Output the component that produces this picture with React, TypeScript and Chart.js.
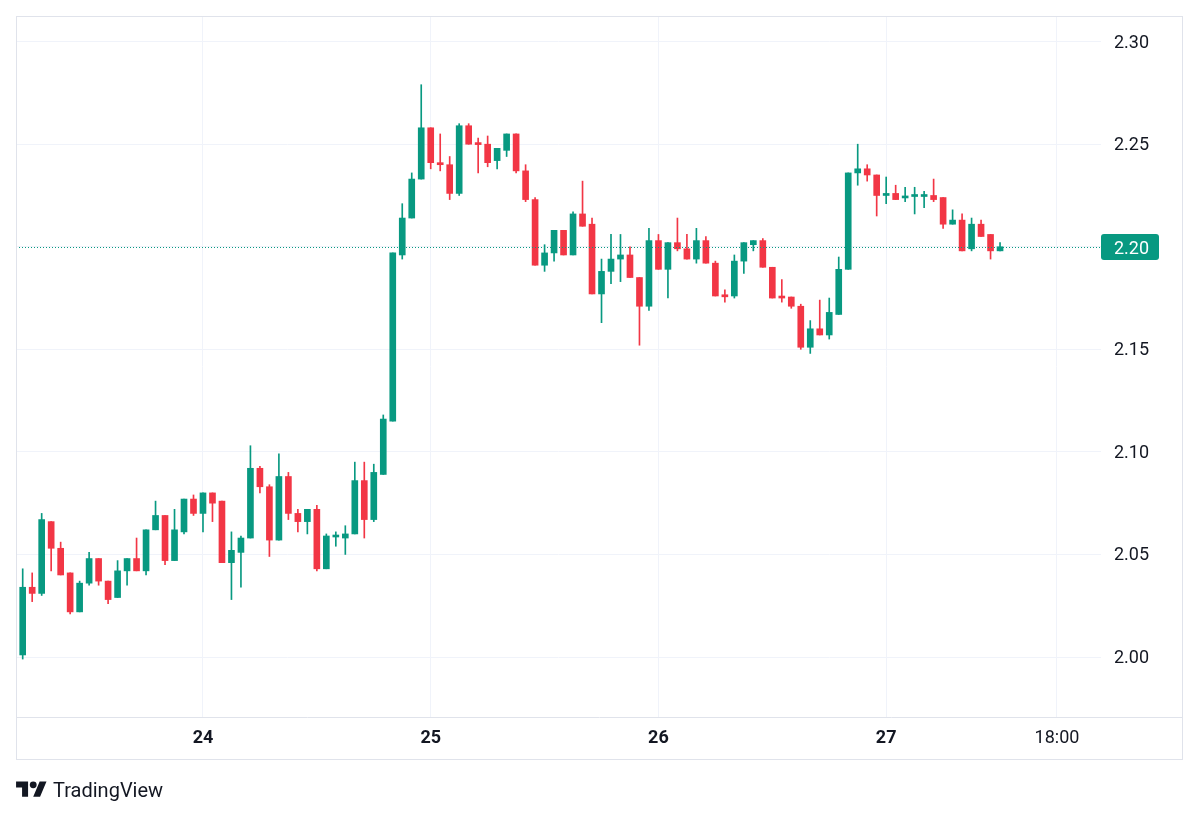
import React, { useEffect, useRef } from 'react';
import { Chart, registerables } from 'chart.js';

Chart.register(...registerables);

// Hourly candles, index 0 = 23rd 05:00
const opens = [
  2.001, 2.034, 2.031, 2.066, 2.053, 2.041, 2.022, 2.036, 2.048, 2.037,
  2.029, 2.042, 2.048, 2.042, 2.062, 2.069, 2.047, 2.061, 2.077, 2.070,
  2.080, 2.076, 2.046, 2.051, 2.058, 2.092, 2.083, 2.057, 2.088, 2.070,
  2.066, 2.072, 2.043, 2.0585, 2.058, 2.060, 2.086, 2.067, 2.089, 2.115,
  2.196, 2.214, 2.233, 2.258, 2.241, 2.240, 2.226, 2.259, 2.2503, 2.250,
  2.242, 2.247, 2.255, 2.237, 2.223, 2.191, 2.197, 2.208, 2.196, 2.216,
  2.211, 2.177, 2.188, 2.194, 2.196, 2.185, 2.171, 2.203, 2.189, 2.202,
  2.199, 2.194, 2.203, 2.192, 2.1766, 2.176, 2.193, 2.201, 2.203, 2.190,
  2.1758, 2.1755, 2.171, 2.151, 2.160, 2.157, 2.167, 2.189, 2.236, 2.238,
  2.235, 2.225, 2.226, 2.2238, 2.2245, 2.2245, 2.225, 2.224, 2.211, 2.213,
  2.199, 2.211, 2.206, 2.198,
];
const highs = [
  2.043, 2.041, 2.070, 2.066, 2.056, 2.041, 2.037, 2.051, 2.048, 2.037,
  2.047, 2.048, 2.058, 2.062, 2.076, 2.069, 2.072, 2.077, 2.079, 2.080,
  2.080, 2.076, 2.061, 2.059, 2.103, 2.093, 2.084, 2.099, 2.090, 2.072,
  2.072, 2.074, 2.060, 2.061, 2.064, 2.095, 2.095, 2.094, 2.118, 2.197,
  2.221, 2.236, 2.279, 2.258, 2.255, 2.244, 2.260, 2.260, 2.253, 2.254,
  2.248, 2.255, 2.255, 2.240, 2.224, 2.201, 2.208, 2.208, 2.217, 2.232,
  2.214, 2.194, 2.206, 2.206, 2.200, 2.185, 2.209, 2.206, 2.202, 2.214,
  2.206, 2.209, 2.205, 2.193, 2.179, 2.196, 2.202, 2.203, 2.204, 2.190,
  2.184, 2.1755, 2.172, 2.164, 2.174, 2.175, 2.195, 2.236, 2.250, 2.240,
  2.235, 2.234, 2.230, 2.229, 2.229, 2.227, 2.233, 2.224, 2.218, 2.216,
  2.214, 2.213, 2.206, 2.202,
];
const lows = [
  1.999, 2.027, 2.030, 2.042, 2.040, 2.021, 2.022, 2.035, 2.035, 2.026,
  2.029, 2.035, 2.042, 2.040, 2.062, 2.045, 2.047, 2.060, 2.069, 2.061,
  2.066, 2.046, 2.028, 2.034, 2.058, 2.080, 2.049, 2.057, 2.067, 2.061,
  2.060, 2.042, 2.043, 2.054, 2.050, 2.060, 2.058, 2.066, 2.089, 2.115,
  2.194, 2.214, 2.233, 2.238, 2.237, 2.223, 2.225, 2.250, 2.236, 2.239,
  2.238, 2.244, 2.236, 2.222, 2.191, 2.188, 2.193, 2.196, 2.196, 2.210,
  2.177, 2.163, 2.182, 2.183, 2.185, 2.152, 2.169, 2.189, 2.175, 2.198,
  2.194, 2.192, 2.192, 2.176, 2.173, 2.175, 2.187, 2.198, 2.190, 2.175,
  2.173, 2.170, 2.150, 2.148, 2.157, 2.155, 2.167, 2.189, 2.230, 2.232,
  2.215, 2.221, 2.223, 2.222, 2.216, 2.219, 2.222, 2.209, 2.211, 2.198,
  2.198, 2.205, 2.194, 2.198,
];
const closes = [
  2.034, 2.031, 2.067, 2.053, 2.040, 2.022, 2.036, 2.048, 2.037, 2.028,
  2.042, 2.048, 2.042, 2.062, 2.069, 2.047, 2.062, 2.077, 2.070, 2.080,
  2.075, 2.046, 2.052, 2.058, 2.092, 2.083, 2.057, 2.088, 2.070, 2.066,
  2.072, 2.043, 2.059, 2.0592, 2.060, 2.086, 2.067, 2.090, 2.116, 2.197,
  2.214, 2.233, 2.258, 2.241, 2.240, 2.226, 2.259, 2.250, 2.2498, 2.241,
  2.248, 2.255, 2.237, 2.223, 2.191, 2.197, 2.208, 2.196, 2.216, 2.210,
  2.177, 2.188, 2.194, 2.196, 2.185, 2.171, 2.203, 2.189, 2.202, 2.199,
  2.194, 2.203, 2.192, 2.176, 2.1756, 2.193, 2.202, 2.203, 2.190, 2.175,
  2.175, 2.171, 2.151, 2.160, 2.157, 2.168, 2.189, 2.236, 2.238, 2.235,
  2.225, 2.226, 2.223, 2.2245, 2.2249, 2.2249, 2.223, 2.211, 2.213, 2.198,
  2.211, 2.205, 2.198, 2.200,
];

// Time axis: hour offsets of the labelled ticks and their labels
const tickHours = [19, 43, 67, 91, 109];
const tickLabels = ['24', '25', '26', '27', '18:00'];
// Price axis ticks
const priceTicks = [2.0, 2.05, 2.1, 2.15, 2.2, 2.25, 2.3];
const lastPrice = 2.2;

const UP = '#089981';
const DOWN = '#F23645';
const GRID = '#f0f3fa';
const FRAME = '#e0e3eb';
const TEXT = '#131722';
const FONT = 'Roboto';

const overlayPlugin = {
  id: 'tvOverlay',
  afterDraw(chart: any) {
    const { ctx, chartArea, scales } = chart;
    const y = Math.round(scales.y.getPixelForValue(lastPrice)) + 0.5;
    ctx.save();
    // dotted last-price line
    ctx.strokeStyle = UP;
    ctx.lineWidth = 1;
    ctx.setLineDash([1, 2]);
    ctx.beginPath();
    ctx.moveTo(chartArea.left, y);
    ctx.lineTo(chartArea.right, y);
    ctx.stroke();
    ctx.setLineDash([]);
    // price label box
    const bx = chartArea.right;
    const bw = 58;
    const bh = 26;
    ctx.fillStyle = UP;
    ctx.beginPath();
    (ctx as any).roundRect(bx, y - 0.5 - bh / 2, bw, bh, 3);
    ctx.fill();
    ctx.fillStyle = '#ffffff';
    ctx.font = `18px ${FONT}`;
    ctx.textAlign = 'left';
    ctx.textBaseline = 'middle';
    ctx.fillText(lastPrice.toFixed(2), bx + 13, y + 1.5);
    // frame and separators
    ctx.strokeStyle = FRAME;
    ctx.lineWidth = 1;
    ctx.strokeRect(16.5, 16.5, 1166, 743);
    ctx.beginPath();
    ctx.moveTo(16, chartArea.bottom + 0.5);
    ctx.lineTo(1183, chartArea.bottom + 0.5);
    ctx.stroke();
    ctx.restore();
  },
};

function TVLogo() {
  return (
    <div
      style={{
        position: 'absolute',
        left: 16,
        top: 777,
        display: 'flex',
        alignItems: 'center',
        height: 26,
      }}
    >
      <svg width="31" height="24" viewBox="0 0 36 28" style={{ display: 'block' }}>
        <path d="M14 22H7V11H0V4h14v18zM28 22h-8l7.5-18h8L28 22z" fill={TEXT} />
        <circle cx="20" cy="8" r="4" fill={TEXT} />
      </svg>
      <span
        style={{
          marginLeft: 6,
          fontFamily: FONT,
          fontSize: 20,
          lineHeight: '20px',
          color: TEXT,
        }}
      >
        TradingView
      </span>
    </div>
  );
}

export default function App() {
  const canvasRef = useRef<HTMLCanvasElement | null>(null);

  useEffect(() => {
    if (!canvasRef.current) return;
    const colors = opens.map((o, i) => (closes[i] >= o ? UP : DOWN));
    const bodies = opens.map((o, i) => ({ x: i, y: [o, closes[i]] }));
    const wicks = lows.map((l, i) => ({ x: i, y: [l, highs[i]] }));

    const chart = new Chart(canvasRef.current, {
      type: 'bar',
      data: {
        datasets: [
          {
            label: 'body',
            data: bodies as any,
            backgroundColor: colors,
            barThickness: 6,
            minBarLength: 2,
            grouped: false,
            order: 1,
          } as any,
          {
            label: 'wick',
            data: wicks as any,
            backgroundColor: colors,
            barThickness: 1,
            grouped: false,
            order: 2,
          } as any,
        ],
      },
      plugins: [overlayPlugin],
      options: {
        animation: false,
        responsive: false,
        maintainAspectRatio: false,
        events: [],
        layout: { padding: { left: 16, top: 16, right: 17, bottom: 57 } },
        plugins: {
          legend: { display: false },
          tooltip: { enabled: false },
        },
        scales: {
          x: {
            type: 'linear',
            min: -0.706,
            max: 113.64,
            offset: false,
            grid: { color: GRID, drawTicks: false, offset: false },
            border: { display: false },
            afterBuildTicks: (scale: any) => {
              scale.ticks = tickHours.map((v) => ({ value: v }));
            },
            afterFit: (scale: any) => {
              scale.height = 43;
              scale.paddingLeft = 0;
              scale.paddingRight = 0;
            },
            ticks: {
              autoSkip: false,
              maxRotation: 0,
              padding: 11,
              color: TEXT,
              font: (ctx: any) => ({
                family: FONT,
                size: 18,
                weight: tickLabels[ctx.index] && tickLabels[ctx.index].includes(':') ? 'normal' : 'bold',
              }),
              callback: (_v: any, i: number) => tickLabels[i],
            },
          },
          y: {
            type: 'linear',
            position: 'right',
            min: 1.97075,
            max: 2.3125,
            grid: { color: GRID, drawTicks: false },
            border: { display: false },
            afterBuildTicks: (scale: any) => {
              scale.ticks = priceTicks.map((v) => ({ value: v }));
            },
            afterFit: (scale: any) => {
              scale.width = 82;
              scale.paddingTop = 0;
              scale.paddingBottom = 0;
            },
            ticks: {
              padding: 13,
              labelOffset: 1.5,
              color: TEXT,
              font: { family: FONT, size: 18 },
              callback: (v: any) => Number(v).toFixed(2),
            },
          },
        },
      } as any,
    });
    return () => chart.destroy();
  }, []);

  return (
    <div style={{ position: 'absolute', left: 0, top: 0, width: 1200, height: 817, background: '#fff' }}>
      <canvas ref={canvasRef} width={1200} height={817} style={{ display: 'block', width: 1200, height: 817 }} />
      <TVLogo />
    </div>
  );
}
